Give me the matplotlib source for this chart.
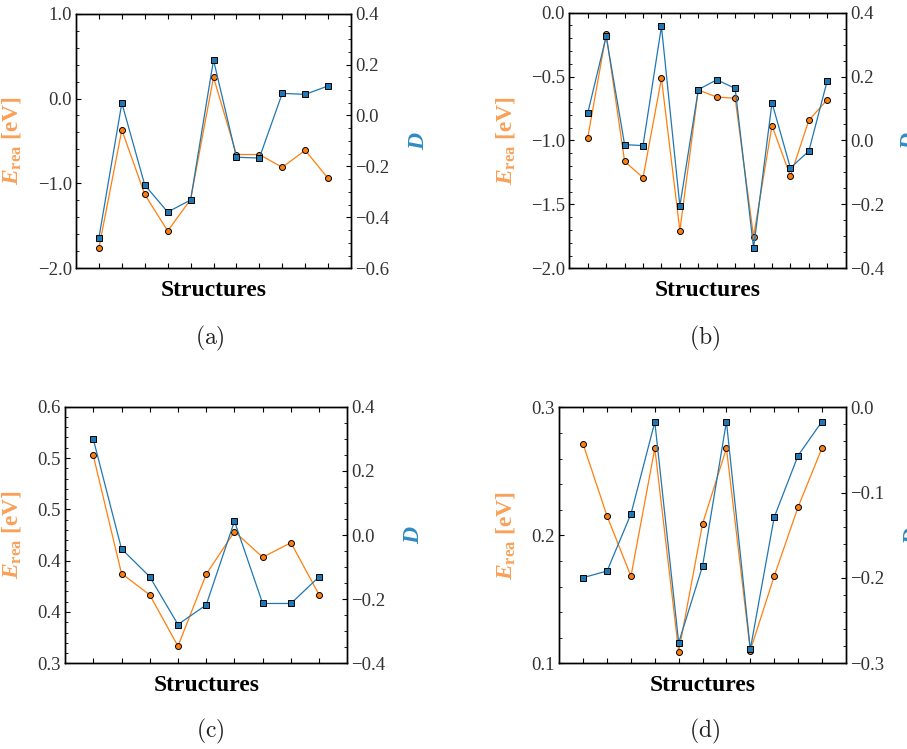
import numpy as np
import matplotlib
matplotlib.use("Agg")
import matplotlib.pyplot as plt
from matplotlib.ticker import FixedLocator, MultipleLocator, FuncFormatter, NullFormatter

plt.rcParams['font.family'] = ['Liberation Serif', 'DejaVu Serif']
plt.rcParams['mathtext.fontset'] = 'custom'
plt.rcParams['mathtext.rm'] = 'Liberation Serif:bold'
plt.rcParams['mathtext.it'] = 'Liberation Serif:italic:bold'
plt.rcParams['mathtext.bf'] = 'Liberation Serif:bold'

ORANGE = "#ff7f0e"
ORANGE_LABEL = "#f9a058"
BLUE = "#1f77b4"
BLUE_LABEL = "#2f8ac4"
TICK_GRAY = "#333333"

# reaction energies (eV) and descriptor D per structure
e_a = [-1.76, -0.37, -1.13, -1.56, -1.19, 0.25, -0.66, -0.66, -0.81, -0.61, -0.94]
d_a = [-0.480, 0.049, -0.273, -0.379, -0.332, 0.218, -0.164, -0.167, 0.087, 0.083, 0.116]

e_b = [-0.978, -0.169, -1.163, -1.291, -0.514, -1.705, -0.605, -0.660, -0.670,
       -1.752, -0.884, -1.280, -0.842, -0.681]
d_b = [0.086, 0.326, -0.013, -0.016, 0.357, -0.205, 0.159, 0.190, 0.163,
       -0.337, 0.118, -0.086, -0.033, 0.187]

e_c = [0.543, 0.405, 0.380, 0.320, 0.404, 0.454, 0.424, 0.441, 0.380]
d_c = [0.299, -0.043, -0.130, -0.279, -0.218, 0.043, -0.2135, -0.2135, -0.130]

e_d = [0.271, 0.215, 0.168, 0.268, 0.109, 0.209, 0.268, 0.110, 0.168, 0.222, 0.268]
d_d = [-0.1996, -0.1918, -0.125, -0.0172, -0.2758, -0.186, -0.0168, -0.2836,
       -0.129, -0.0566, -0.0168]

panels = [
    # (label, E, D, E range, E ticks, E minor step, D range, D ticks, D minor step, rect, ylabel x, D label x)
    ("(a)", e_a, d_a, (-2.0, 1.0), np.linspace(-2.0, 1.0, 4), 0.2,
     (-0.6, 0.4), np.linspace(-0.6, 0.4, 6), 0.05,
     [0.0838, 0.6418, 0.3032, 0.340], -0.193, 1.207),
    ("(b)", e_b, d_b, (-2.0, 0.0), np.linspace(-2.0, 0.0, 5), 0.1,
     (-0.4, 0.4), np.linspace(-0.4, 0.4, 5), 0.05,
     [0.6277, 0.6418, 0.3047, 0.3413], -0.188, 1.196),
    ("(c)", e_c, d_c, (0.3, 0.6), np.linspace(0.3, 0.6, 6), 0.012,
     (-0.4, 0.4), np.linspace(-0.4, 0.4, 5), 0.05,
     [0.0717, 0.1144, 0.3113, 0.3426], -0.149, 1.196),
    ("(d)", e_d, d_d, (0.1, 0.3), np.linspace(0.1, 0.3, 3), 0.02,
     (-0.3, 0.0), np.linspace(-0.3, 0.0, 4), 0.02,
     [0.6167, 0.1144, 0.3158, 0.3418], -0.147, 1.20),
]

caption_pos = {"(a)": (0.2315, 0.5487), "(b)": (0.777, 0.5487),
               "(c)": (0.2323, 0.0231), "(d)": (0.777, 0.0231)}


def one_decimal(v, pos):
    v = round(v, 6)
    if v == 0:
        v = 0.0
    return ("%.1f" % v).replace("-", "\u2212")


def style_ticks(ax):
    ax.tick_params(which='major', direction='in', length=3.5, width=0.8,
                   colors='black', labelcolor=TICK_GRAY, labelsize=13.5, pad=3)
    ax.tick_params(which='minor', direction='in', length=2, width=0.6, colors='black')


fig = plt.figure(figsize=(9.07, 7.49), dpi=100)

for (tag, e, d, e_lim, e_ticks, e_minor, d_lim, d_ticks, d_minor,
     rect, ylab_x, dlab_x) in panels:
    x = np.arange(len(e))
    ax = fig.add_axes(rect)
    ax2 = ax.twinx()

    ax.plot(x, e, color=ORANGE, lw=0.9, marker='o', markersize=4.3,
            markerfacecolor=ORANGE, markeredgecolor='black', markeredgewidth=0.7)
    ax2.plot(x, d, color=BLUE, lw=0.9, marker='s', markersize=4.3,
             markerfacecolor=BLUE, markeredgecolor='black', markeredgewidth=0.7)

    ax.set_xlim(-1, len(e))
    ax.set_ylim(*e_lim)
    ax2.set_ylim(*d_lim)

    ax.xaxis.set_major_locator(FixedLocator(x))
    ax.xaxis.set_major_formatter(NullFormatter())
    ax.tick_params(axis='x', top=True, bottom=True)

    ax.yaxis.set_major_locator(FixedLocator(e_ticks))
    ax.yaxis.set_minor_locator(MultipleLocator(e_minor))
    ax.yaxis.set_major_formatter(FuncFormatter(one_decimal))
    ax2.yaxis.set_major_locator(FixedLocator(d_ticks))
    ax2.yaxis.set_minor_locator(MultipleLocator(d_minor))
    ax2.yaxis.set_major_formatter(FuncFormatter(one_decimal))

    style_ticks(ax)
    style_ticks(ax2)
    for a in (ax, ax2):
        for s in a.spines.values():
            s.set_linewidth(1.0)
            s.set_color('black')

    ax.set_xlabel("Structures", fontsize=17, fontweight='bold')
    ax.xaxis.set_label_coords(0.5, -0.045)

    ax.set_ylabel(r"$\mathit{E}_{\mathrm{rea}}$ [eV]", fontsize=17,
                  fontweight='bold', color=ORANGE_LABEL)
    ax.yaxis.set_label_coords(ylab_x, 0.5)
    ax2.set_ylabel(r"$\mathit{D}$", fontsize=17, color=BLUE_LABEL)
    ax2.yaxis.set_label_coords(dlab_x, 0.5)

    cx, cy = caption_pos[tag]
    fig.text(cx, cy, r"$\mathrm{%s}$" % tag, fontsize=17, ha='center', va='center',
             math_fontfamily='cm', color='#222222')

fig.savefig("out.png", dpi=100)
